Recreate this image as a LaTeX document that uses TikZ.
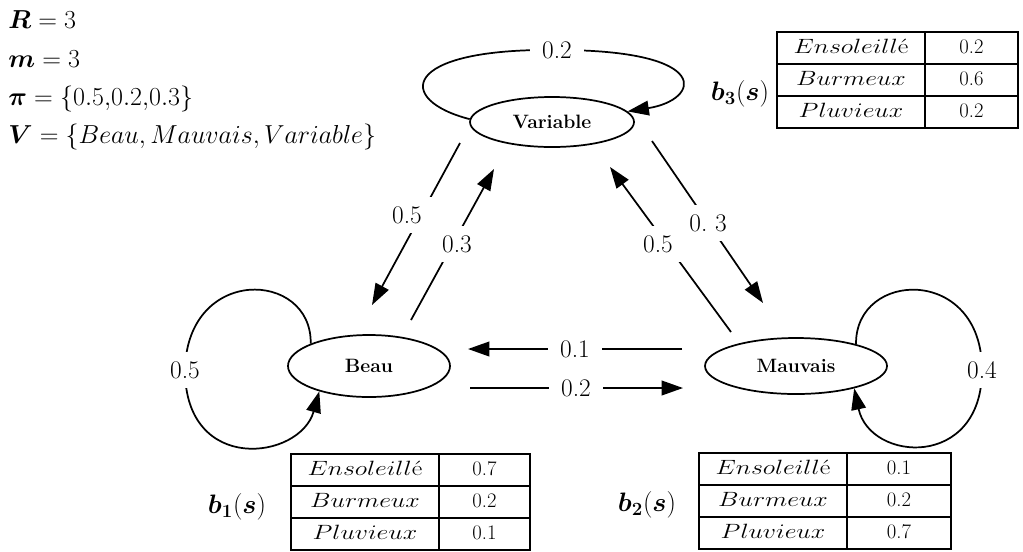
\RequirePackage{fix-cm}
\documentclass[tikz,border=0pt]{standalone}
\usepackage{bm}
\usepackage{graphicx}
\usetikzlibrary{shapes.geometric,arrows.meta}

% wide italic state words used in the emission tables
\newcommand{\wideit}[1]{\scalebox{1.25}[1]{#1}}

% emission table: #1 name, #2 left x, #3 column divider x, #4 right x, #5 top y, #6-#8 values
\newcommand{\probtab}[8]{%
  \draw[tabline] (#2,#5) rectangle (#4,#5+96);
  \draw[tabline] (#3,#5) -- (#3,#5+96);
  \draw[tabline] (#2,#5+32) -- (#4,#5+32);
  \draw[tabline] (#2,#5+64) -- (#4,#5+64);
  \node[tabtxt] (#1-s1) at ({(#2+#3)/2},#5+16) {\wideit{$Ensoleill$\'e}};
  \node[tabtxt] (#1-s2) at ({(#2+#3)/2},#5+48) {\wideit{$Burmeux$}};
  \node[tabtxt] (#1-s3) at ({(#2+#3)/2},#5+80) {\wideit{$Pluvieux$}};
  \node[tabtxt] (#1-v1) at ({(#3+#4)/2},#5+16) {#6};
  \node[tabtxt] (#1-v2) at ({(#3+#4)/2},#5+48) {#7};
  \node[tabtxt] (#1-v3) at ({(#3+#4)/2},#5+80) {#8};
}

\begin{document}
\begin{tikzpicture}[x=0.75pt, y=-0.75pt,
  state/.style={draw, ellipse, line width=1.3pt, inner sep=0pt,
    font=\fontsize{14.5}{17}\selectfont\bfseries},
  arr/.style={line width=1.3pt, -{Triangle[length=16pt,width=11pt]}},
  lbl/.style={fill=white, inner xsep=9pt, inner ysep=7pt,
    font=\fontsize{19}{22}\selectfont},
  tabline/.style={line width=1.3pt},
  tabtxt/.style={inner sep=0pt, text height=11pt, text depth=3pt,
    font=\fontsize{15.5}{18}\selectfont},
  blbl/.style={inner sep=0pt, font=\fontsize{20}{23}\selectfont},
  param/.style={inner sep=0pt, anchor=base west, font=\fontsize{19.5}{23}\selectfont}
]
\useasboundingbox (0,0) rectangle (1023,551);

% model parameters
\node[param] (pR) at (8,28)  {$\bm{R} = 3$};
\node[param] (pm) at (8,67)  {$\bm{m} = 3$};
\node[param] (ppi) at (8,105) {$\bm{\pi} = \{0.5{,}0.2{,}0.3\}$};
\node[param] (pV) at (8,143) {$\bm{V} = \{Beau, Mauvais, Variable\}$};

% states
\node[state, minimum width=123pt, minimum height=37.5pt] (var) at (552,122) {Variable};
\node[state, minimum width=121.5pt, minimum height=46.5pt] (beau) at (369,366) {Beau};
\node[state, minimum width=136.5pt, minimum height=42pt] (mauv) at (796,366) {Mauvais};

% self transitions
\draw[arr] (var.178) .. controls (395,100) and (400,48) .. (557,50)
  node[lbl] (lvv) {0.2} .. controls (715,50) and (700,100) .. (var.8);
\draw[arr] (beau.159) .. controls (312,270) and (187,265) .. (185,370)
  node[lbl] (lbb) {0.5} .. controls (185,475) and (300,460) .. (beau.207);
\draw[arr] (mauv.20) .. controls (855,270) and (982,265) .. (982,370)
  node[lbl] (lmm) {0.4} .. controls (982,470) and (870,462) .. (mauv.-21);

% transition arrow ends
\coordinate (vb0) at (460,143); \coordinate (vb1) at (372,305);
\coordinate (bv0) at (411,320); \coordinate (bv1) at (494,169);
\coordinate (mv0) at (731,332); \coordinate (mv1) at (610,167);
\coordinate (vm0) at (652,141); \coordinate (vm1) at (763,303);
\coordinate (mb0) at (682,349); \coordinate (mb1) at (468,349);
\coordinate (bm0) at (470,388); \coordinate (bm1) at (683,388);

\draw[arr] (vb0) -- (vb1);
\draw[arr] (bv0) -- (bv1);
\draw[arr] (mv0) -- (mv1);
\draw[arr] (vm0) -- (vm1);
\draw[arr] (mb0) -- (mb1);
\draw[arr] (bm0) -- (bm1);

\node[lbl] (lvb) at (407,215) {0.5};
\node[lbl] (lbv) at (457,244) {0.3};
\node[lbl] (lmv) at (658,244) {0.5};
\node[lbl] (lvm) at (708,223) {0.\ 3};
\node[lbl] (lmb) at (575,349) {0.1};
\node[lbl] (lbm) at (576,388) {0.2};

% emission probabilities
\node[blbl] (b1) at (237,507) {$\bm{b}_{\bm{1}}(\bm{s})$};
\node[blbl] (b2) at (647,505) {$\bm{b}_{\bm{2}}(\bm{s})$};
\node[blbl] (b3) at (740,94)  {$\bm{b}_{\bm{3}}(\bm{s})$};
\probtab{t1}{291}{439}{530}{454}{0.7}{0.2}{0.1}
\probtab{t2}{699}{847}{951}{453}{0.1}{0.2}{0.7}
\probtab{t3}{777}{925}{1018}{32}{0.2}{0.6}{0.2}
\end{tikzpicture}
\end{document}
